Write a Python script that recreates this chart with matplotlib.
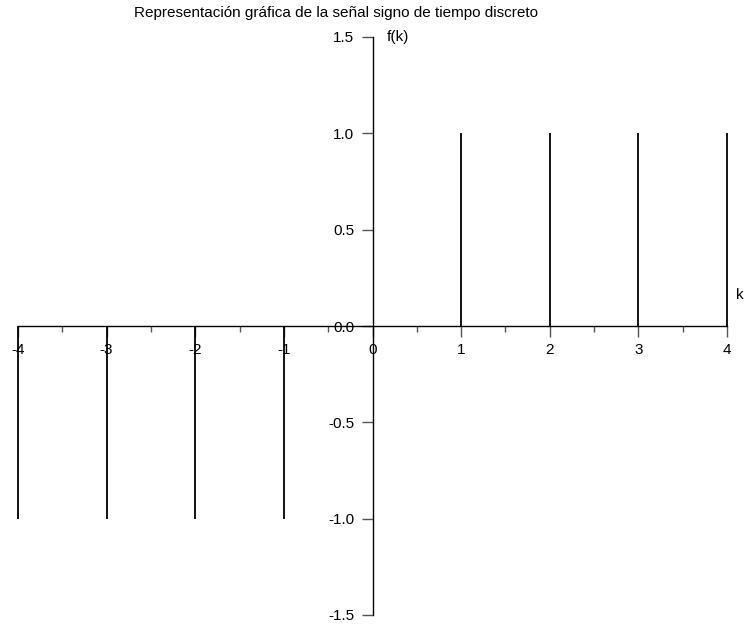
import matplotlib.pyplot as plt
from matplotlib.ticker import MultipleLocator

plt.rcParams['font.family'] = ['Liberation Sans', 'DejaVu Sans']

# datos de la senal signo
k = [-4, -3, -2, -1, 0, 1, 2, 3, 4]
f = [-1, -1, -1, -1, 0, 1, 1, 1, 1]
yticks = [-1.5, -1.0, -0.5, 0.0, 0.5, 1.0, 1.5]
xticks = [-4, -3, -2, -1, 0, 1, 2, 3, 4]

fig = plt.figure(figsize=(7.44, 6.3), dpi=100)
ax = fig.add_axes([18/744, 15/630, 709/744, 578/630])

ax.vlines(k, 0, f, color="black", lw=1.3, clip_on=False)

ax.set_xlim(-4, 4)
ax.set_ylim(-1.5, 1.5)

ax.spines['left'].set_position(('data', 0))
ax.spines['bottom'].set_position(('data', 0))
ax.spines['top'].set_visible(False)
ax.spines['right'].set_visible(False)
ax.spines['left'].set_linewidth(1)
ax.spines['bottom'].set_linewidth(1)

ax.set_xticks(xticks)
ax.set_xticklabels([str(v) for v in xticks], fontsize=11)
ax.xaxis.set_minor_locator(MultipleLocator(0.5))
ax.set_yticks(yticks)
ax.set_yticklabels(["%.1f" % v for v in yticks], fontsize=11)

ax.tick_params(axis='x', which='major', direction='out', length=8, width=1, pad=4, color='#555555')
ax.tick_params(axis='x', which='minor', direction='out', length=4, width=1, color='#555555')
ax.tick_params(axis='y', which='major', direction='out', length=8, width=1, pad=5, color='#555555')

fig.text(336/744, 1 - 13/630, "Representación gráfica de la señal signo de tiempo discreto",
         ha='center', va='center', fontsize=11)
fig.text(387/744, 1 - 37/630, "f(k)", ha='left', va='center', fontsize=11)
fig.text(736/744, 1 - 295/630, "k", ha='left', va='center', fontsize=11)

fig.savefig("out.png", dpi=100)
